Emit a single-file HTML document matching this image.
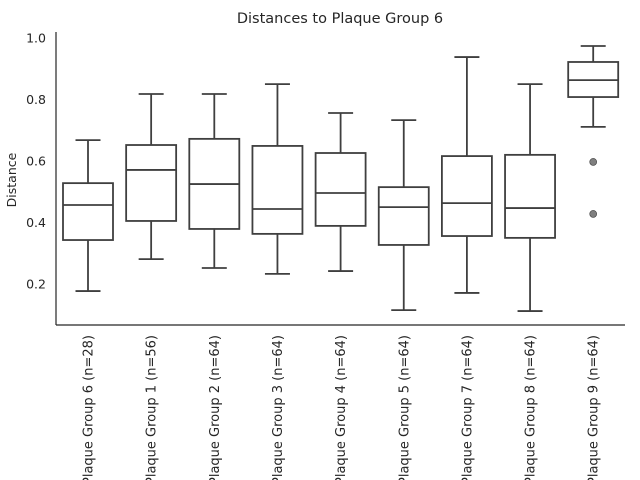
<!DOCTYPE html>
<html><head><meta charset="utf-8"><style>
body{margin:0;background:#fff;}
svg{display:block;font-family:"DejaVu Sans","Liberation Sans",sans-serif;}
</style></head><body>
<svg id="chart" width="640" height="480" viewBox="0 0 640 480">
<text x="340" y="23" text-anchor="middle" font-size="14.5" fill="#262626">Distances to Plaque Group 6</text>
<text transform="translate(16,180) rotate(-90)" text-anchor="middle" font-size="12.5" fill="#262626">Distance</text>
<line x1="56" y1="32" x2="56" y2="325" stroke="#262626" stroke-width="1.2"/>
<line x1="56" y1="325" x2="625" y2="325" stroke="#262626" stroke-width="1.2"/>
<g id="marks"></g>
</svg>
<script>
const categories=["Plaque Group 6 (n=28)","Plaque Group 1 (n=56)","Plaque Group 2 (n=64)","Plaque Group 3 (n=64)","Plaque Group 4 (n=64)","Plaque Group 5 (n=64)","Plaque Group 7 (n=64)","Plaque Group 8 (n=64)","Plaque Group 9 (n=64)"];
const whiskerLow=[0.177,0.281,0.252,0.233,0.242,0.115,0.171,0.112,0.711];
const q1=[0.343,0.405,0.379,0.363,0.389,0.327,0.356,0.350,0.808];
const medians=[0.457,0.571,0.525,0.444,0.496,0.450,0.463,0.447,0.863];
const q3=[0.528,0.652,0.672,0.649,0.626,0.515,0.616,0.620,0.922];
const whiskerHigh=[0.668,0.818,0.818,0.850,0.756,0.733,0.938,0.850,0.974];
const outliers=[[],[],[],[],[],[],[],[],[0.597,0.428]];
const yTicks=[0.2,0.4,0.6,0.8,1.0];

const NS="http://www.w3.org/2000/svg";
const g=document.getElementById('marks');
function y(v){return 38+(1-v)*307.5;}
function x(i){return 88+i*63.15;}
function mk(t,a){const e=document.createElementNS(NS,t);for(const k in a)e.setAttribute(k,a[k]);g.appendChild(e);return e;}
yTicks.forEach(t=>{
  const e=mk('text',{x:46,y:y(t)+4.5,'text-anchor':'end','font-size':12.5,fill:'#262626'});
  
  
  e.textContent=t.toFixed(1);
});
const st={stroke:'#3f3f3f','stroke-width':1.8,fill:'none'};
categories.forEach((c,i)=>{
  const cx=x(i),hw=25,cap=12.5;
  const b=mk('rect',Object.assign({x:cx-hw,y:y(q3[i]),width:2*hw,height:y(q1[i])-y(q3[i])},st,{fill:'#ffffff'}));
  
  
  const m=mk('line',Object.assign({x1:cx-hw,x2:cx+hw,y1:y(medians[i]),y2:y(medians[i])},st));
  
  
  [[q3[i],whiskerHigh[i]],[q1[i],whiskerLow[i]]].forEach(p=>{
    const w=mk('line',Object.assign({x1:cx,x2:cx,y1:y(p[0]),y2:y(p[1])},st));
    
    
    const cp=mk('line',Object.assign({x1:cx-cap,x2:cx+cap,y1:y(p[1]),y2:y(p[1])},st));
    
    
  });
  outliers[i].forEach(v=>{
    const o=mk('circle',{cx:cx,cy:y(v),r:3.5,fill:'#7f7f7f',stroke:'#3f3f3f','stroke-width':0.6});
    
    
  });
  const t=mk('text',{transform:'translate('+(cx+4.5)+',335) rotate(-90)','text-anchor':'end','font-size':13,fill:'#262626'});
  
  
  t.textContent=c;
});
</script>
</body></html>
